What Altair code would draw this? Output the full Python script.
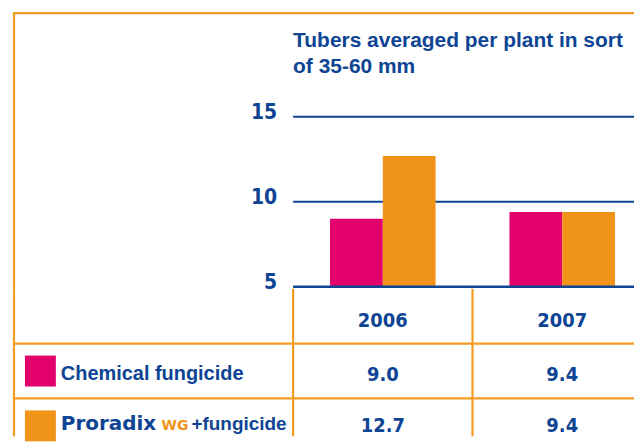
import altair as alt
import pandas as pd

# ---- data ----
years = ["2006", "2007"]
series_names = ["Chemical fungicide", "Proradix WG + fungicide"]
chemical_values = [9.0, 9.4]
proradix_values = [12.7, 9.4]
y_ticks = [5, 10, 15]
title_lines = ["Tubers averaged per plant in sort", "of 35-60 mm"]
table_rows = ["header"] + series_names
label_parts = ["Proradix", "WG", "+fungicide"]

# ---- style ----
BLUE = "#0E4494"
PINK = "#E2006B"
ORANGE = "#F09419"
FRAME = "#F39C22"
NUM_FONT = "DejaVu Sans Condensed, Liberation Sans"
TXT_FONT = "Liberation Sans"
W = 628

bars_df = pd.DataFrame({
    "year": years * 2,
    "series": [s for s in series_names for _ in years],
    "value": chemical_values + proradix_values,
})
bars_df["label"] = bars_df["value"].map(lambda v: f"{v:.1f}")
ticks_df = pd.DataFrame({"tick": y_ticks})
title_df = pd.DataFrame({"t": ["\n".join(title_lines)]})
rows_df = pd.DataFrame({"series": series_names})
years_df = pd.DataFrame({"year": years})
one = pd.DataFrame({"a": [0]})

x_scale = alt.Scale(type="band", domain=years, range=[286, 646], paddingInner=0, paddingOuter=0)
xoff_scale = alt.Scale(domain=series_names, paddingInner=0, paddingOuter=0.7)
y_scale = alt.Scale(domain=[5, 15], range=[279, 108.5], nice=False, zero=False)
t_scale = alt.Scale(type="band", domain=table_rows, range=[0, 165], paddingInner=0, paddingOuter=0)
c_scale = alt.Scale(domain=series_names, range=[PINK, ORANGE])

x_start = alt.XDatum("2006", bandPosition=0, type="nominal", scale=x_scale, axis=None)

# ---------- top panel (title, grid, bars, ticks) ----------
frame_top = alt.Chart(one).mark_rule(color=FRAME, strokeWidth=2.2).encode(
    x=alt.value(5), x2=alt.value("width"), y=alt.value(4.5)
)
frame_left_top = alt.Chart(one).mark_rule(color=FRAME, strokeWidth=2.2).encode(
    x=alt.value(6), y=alt.value(4.5), y2=alt.value("height")
)
grid = alt.Chart(ticks_df).transform_filter("datum.tick > 5").mark_rule(
    color=BLUE, strokeWidth=2
).encode(
    x=x_start,
    x2=alt.value("width"),
    y=alt.Y("tick:Q", scale=y_scale, axis=None),
)
bars = alt.Chart(bars_df).mark_bar(strokeWidth=0).encode(
    x=alt.X("year:N", scale=x_scale, axis=None),
    xOffset=alt.XOffset("series:N", scale=xoff_scale),
    y=alt.Y("value:Q", scale=y_scale, axis=None),
    y2=alt.datum(5),
    color=alt.Color("series:N", scale=c_scale, legend=None),
)
baseline = alt.Chart(ticks_df).transform_filter("datum.tick == 5").mark_rule(
    color=BLUE, strokeWidth=2.4
).encode(
    x=x_start,
    x2=alt.value("width"),
    y=alt.Y("tick:Q", scale=y_scale, axis=None),
)
tick_labels = alt.Chart(ticks_df).mark_text(
    align="right", baseline="alphabetic", dx=-16, dy=2.5,
    font=NUM_FONT, fontSize=21, fontWeight="bold", color=BLUE,
).encode(
    x=x_start,
    y=alt.Y("tick:Q", scale=y_scale, axis=None),
    text="tick:Q",
)
title = alt.Chart(title_df).mark_text(
    align="left", baseline="alphabetic", lineBreak="\n", lineHeight=27,
    font=TXT_FONT, fontSize=21, fontWeight="bold", color=BLUE,
).encode(
    x=x_start,
    y=alt.value(38),
    text="t:N",
)
top = alt.layer(frame_top, frame_left_top, grid, bars, baseline, tick_labels, title).properties(
    width=W, height=281
)

# ---------- bottom panel (table) ----------
frame_left_bot = alt.Chart(one).mark_rule(color=FRAME, strokeWidth=2.2).encode(
    x=alt.value(6), y=alt.value(0), y2=alt.value("height")
)
vlines = alt.Chart(years_df).mark_rule(color=FRAME, strokeWidth=2.2).encode(
    x=alt.X("year:N", scale=x_scale, axis=None, bandPosition=0),
    y=alt.YDatum("header", type="nominal", scale=t_scale, axis=None, bandPosition=0),
    y2=alt.value("height"),
)
hlines = alt.Chart(rows_df).mark_rule(color=FRAME, strokeWidth=2.2).encode(
    y=alt.Y("series:N", scale=t_scale, axis=None, bandPosition=0),
    x=alt.value(6),
    x2=alt.value("width"),
)
header = alt.Chart(years_df).mark_text(
    baseline="alphabetic", dy=10.8, font=NUM_FONT, fontSize=20, fontWeight="bold", color=BLUE
).encode(
    x=alt.X("year:N", scale=x_scale, axis=None),
    y=alt.YDatum("header", type="nominal", scale=t_scale, axis=None),
    text="year:N",
)
vals1 = alt.Chart(bars_df).transform_filter(
    alt.datum.series == series_names[0]
).mark_text(
    baseline="alphabetic", dy=10.2, font=NUM_FONT, fontSize=20, fontWeight="bold", color=BLUE
).encode(
    x=alt.X("year:N", scale=x_scale, axis=None),
    y=alt.Y("series:N", scale=t_scale, axis=None),
    text="label:N",
)
vals2 = alt.Chart(bars_df).transform_filter(
    alt.datum.series == series_names[1]
).mark_text(
    baseline="alphabetic", dy=6.5, font=NUM_FONT, fontSize=20, fontWeight="bold", color=BLUE
).encode(
    x=alt.X("year:N", scale=x_scale, axis=None),
    y=alt.Y("series:N", scale=t_scale, axis=None),
    text="label:N",
)
swatches = alt.Chart(rows_df).mark_square(size=961, opacity=1, strokeWidth=0).encode(
    x=alt.value(32.5),
    y=alt.Y("series:N", scale=t_scale, axis=None),
    color=alt.Color("series:N", scale=c_scale, legend=None),
)
label_chem = alt.Chart(rows_df).transform_filter(
    alt.datum.series == series_names[0]
).mark_text(
    align="left", baseline="alphabetic", dy=9.2, font=TXT_FONT, fontSize=20,
    fontWeight="bold", color=BLUE,
).encode(
    x=alt.value(53),
    y=alt.Y("series:N", scale=t_scale, axis=None),
    text="series:N",
)
prow = pd.DataFrame({"series": [series_names[1]], "p1": [label_parts[0]],
                     "p2": [label_parts[1]], "p3": [label_parts[2]]})
lp1 = alt.Chart(prow).mark_text(
    align="left", baseline="alphabetic", dy=4.5, font="DejaVu Sans", fontSize=20,
    fontWeight="bold", color=BLUE,
).encode(x=alt.value(53), y=alt.Y("series:N", scale=t_scale, axis=None), text="p1:N")
lp2 = alt.Chart(prow).mark_text(
    align="left", baseline="alphabetic", dy=4.5, font="DejaVu Sans", fontSize=14,
    fontWeight="bold", color=ORANGE,
).encode(x=alt.value(154), y=alt.Y("series:N", scale=t_scale, axis=None), text="p2:N")
lp3 = alt.Chart(prow).mark_text(
    align="left", baseline="alphabetic", dy=4.5, font=TXT_FONT, fontSize=19,
    fontWeight="bold", color=BLUE,
).encode(x=alt.value(184), y=alt.Y("series:N", scale=t_scale, axis=None), text="p3:N")

bottom = alt.layer(frame_left_bot, vlines, hlines, header, vals1, vals2,
                   swatches, label_chem, lp1, lp2, lp3).properties(width=W, height=148)

chart = alt.vconcat(top, bottom, spacing=0, bounds="flush").properties(
    padding=0
).configure_view(stroke=None).configure_concat(spacing=0)

chart.save("out.html", embed_options={"renderer": "svg", "actions": False})
